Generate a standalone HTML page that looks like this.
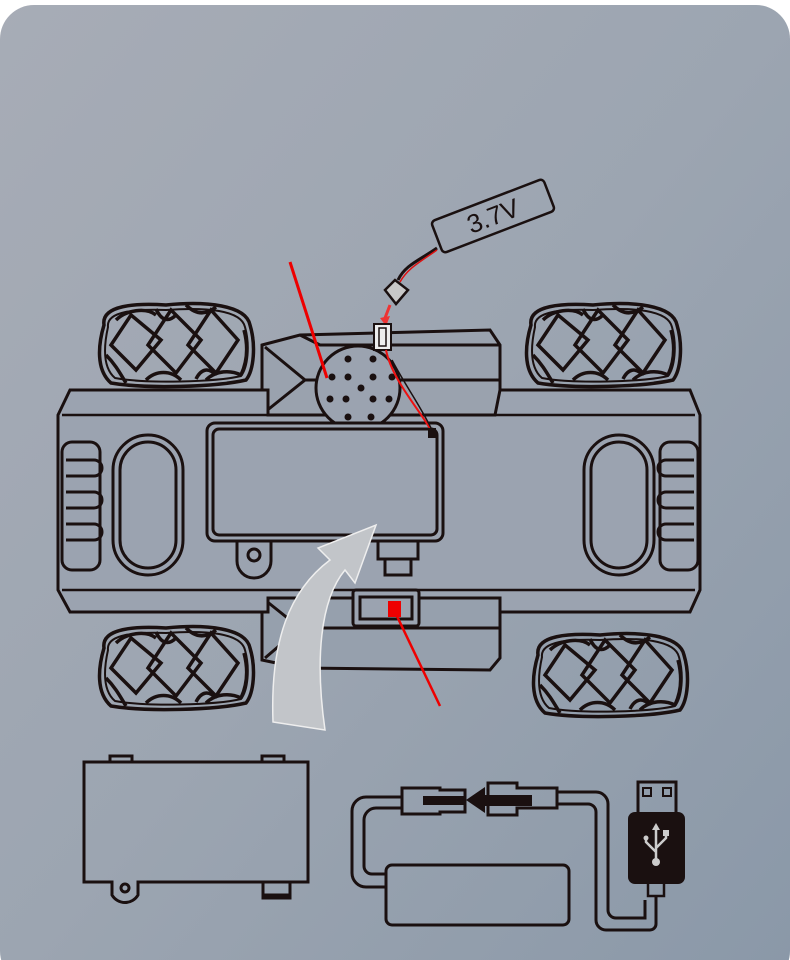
<!DOCTYPE html>
<html><head><style>
html,body{margin:0;padding:0;background:#fff;width:790px;height:960px;overflow:hidden}
</style></head><body>
<svg width="790" height="960" viewBox="0 0 790 960" xmlns="http://www.w3.org/2000/svg">
<defs>
<linearGradient id="bg" x1="0" y1="0" x2="1" y2="1">
<stop offset="0" stop-color="#a7acb6"/><stop offset="0.5" stop-color="#9ca5b1"/><stop offset="1" stop-color="#8a98a8"/>
</linearGradient>
<g id="wheel" fill="none" stroke="#1a1010" stroke-width="3.5">
<path d="M-72,-20 C-75,-40 -40,-42 -10,-40 C30,-44 70,-40 74,-20 C80,0 78,25 70,35 C40,42 -30,44 -65,38 C-80,25 -78,0 -72,-20Z"/>
<path d="M-68,-18 C-70,-34 -40,-36 -10,-35 C30,-38 65,-35 69,-18 C74,0 72,22 65,31 C40,37 -30,39 -61,33 C-74,22 -72,0 -68,-18Z" stroke-width="2"/>
<path d="M-45,-30 L-15,-5 L-40,25 L-65,0Z"/>
<path d="M-5,-35 L25,-5 L0,28 L-28,0Z"/>
<path d="M35,-35 L62,-5 L40,28 L12,0Z"/>
<path d="M-60,-25 C-50,-35 -30,-38 -20,-30 M10,-40 C20,-30 30,-30 40,-38 M-30,35 C-20,25 -5,25 5,35 M30,35 C40,25 55,25 65,30"/>
<path d="M-70,10 C-60,20 -55,30 -50,38 M68,-15 C72,0 72,15 65,30 M-20,-36 C-15,-25 -8,-22 0,-30 M20,34 C25,24 32,22 40,30"/>
</g>
</defs>
<rect x="0" y="5" width="790" height="980" rx="34" fill="url(#bg)"/>

<use href="#wheel" x="176" y="345"/>
<use href="#wheel" x="603" y="345"/>
<use href="#wheel" x="176" y="668"/>
<use href="#wheel" x="610" y="675"/>

<g fill="none" stroke="#1a1010" stroke-width="3">
<path d="M262,345 L300,335 L490,330 L500,345 L500,415 L262,415Z" fill="#9aa2ae"/>
<path d="M265,347 L305,380 L265,412 M300,335 L320,345 L500,345 M305,380 L500,380"/>
<path d="M262,598 L500,598 L500,658 L490,670 L300,668 L262,660Z" fill="#96a0ad"/>
<path d="M265,600 L300,628 L265,658 M300,628 L500,628"/>
<path d="M58,415 L70,390 L268,390 L268,415 L495,415 L500,390 L690,390 L700,415 L700,590 L690,612 L500,612 L500,598 L268,598 L268,612 L70,612 L58,590Z" fill="#9ba3b0"/>
<path d="M62,415 L695,415 M62,590 L695,590" stroke-width="2.5"/>
<circle cx="358" cy="388" r="42" fill="#9ba3b0"/>
<rect x="207" y="423" width="236" height="118" rx="8" fill="#9ba3b0"/>
<rect x="213" y="429" width="224" height="106" rx="6"/>
<rect x="113" y="435" width="70" height="140" rx="35"/>
<rect x="120" y="442" width="56" height="126" rx="28"/>
<rect x="584" y="435" width="70" height="140" rx="35"/>
<rect x="591" y="442" width="56" height="126" rx="28"/>
<rect x="62" y="442" width="38" height="128" rx="10"/>
<rect x="660" y="442" width="38" height="128" rx="10"/>
<path d="M66,460 h28 a8,8 0 0 1 0,16 h-28 M66,492 h28 a8,8 0 0 1 0,16 h-28 M66,524 h28 a8,8 0 0 1 0,16 h-28"/>
<path d="M694,460 h-28 a8,8 0 0 0 0,16 h28 M694,492 h-28 a8,8 0 0 0 0,16 h28 M694,524 h-28 a8,8 0 0 0 0,16 h28"/>
<path d="M237,541 v20 a17,17 0 0 0 34,0 v-20"/>
<circle cx="254" cy="555" r="6"/>
<path d="M378,541 v18 h40 v-18 M385,559 v16 h26 v-16"/>
<rect x="353" y="590" width="66" height="36" rx="3" fill="#9ba3b0"/>
<rect x="360" y="597" width="52" height="22"/>
<path d="M84,762 L308,762 L308,882 L290,882 L290,895 L263,895 L263,882 L138,882 L138,895 a15,15 0 0 1 -26,0 L112,882 L84,882Z"/>
<path d="M110,762 v-6 h22 v6 M262,762 v-6 h22 v6"/>
<circle cx="125" cy="888" r="4"/>
<rect x="263" y="882" width="27" height="16"/>
<path d="M402,797 H366 a14,14 0 0 0 -14,14 V873 a14,14 0 0 0 14,14 H386"/>
<path d="M402,808 H376 a12,12 0 0 0 -12,12 V866 a8,8 0 0 0 8,8 H386"/>
<rect x="386" y="865" width="183" height="60" rx="6"/>
<path d="M557,792 H596 a12,12 0 0 1 12,12 V910 a8,8 0 0 0 8,8 H645 V900"/>
<path d="M557,804 H588 a8,8 0 0 1 8,8 V920 a10,10 0 0 0 10,10 H650 a6,6 0 0 0 6,-6 V895"/>
<path d="M402,788 H440 V790 H465 V812 H440 V814 H402Z"/>
<path d="M488,783 H517 V788 H557 V808 H517 V815 H488Z"/>
<rect x="638" y="782" width="38" height="34"/>
<rect x="643" y="788" width="8" height="8" stroke-width="2"/>
<rect x="663" y="788" width="8" height="8" stroke-width="2"/>
<rect x="648" y="880" width="16" height="16" stroke-width="2.5"/>
</g>
<rect x="628" y="812" width="57" height="72" rx="7" fill="#1a1010"/>
<g stroke="#ccc" stroke-width="2.5" fill="none"><path d="M656,828 V862 M656,852 L646,842 V838 M656,848 L666,838 V834"/></g>
<circle cx="656" cy="862" r="4" fill="#ccc"/><circle cx="646" cy="838" r="2.5" fill="#ccc"/><rect x="663" y="830" width="6" height="6" fill="#ccc"/><path d="M652,830 L656,823 L660,830Z" fill="#ccc"/>
<path d="M423,796 H466 V805 H423Z M478,795 H532 V806 H478Z" fill="#1a1010"/>
<path d="M466,800 L485,787 V813Z" fill="#1a1010"/>

<g fill="#1a1010">
<circle cx="348" cy="359" r="3.5"/><circle cx="373" cy="359" r="3.5"/>
<circle cx="332" cy="377" r="3.5"/><circle cx="348" cy="377" r="3.5"/><circle cx="373" cy="377" r="3.5"/><circle cx="392" cy="377" r="3.5"/>
<circle cx="361" cy="388" r="3.5"/>
<circle cx="330" cy="399" r="3.5"/><circle cx="346" cy="399" r="3.5"/><circle cx="373" cy="399" r="3.5"/><circle cx="389" cy="399" r="3.5"/>
<circle cx="348" cy="417" r="3.5"/><circle cx="371" cy="417" r="3.5"/>
</g>

<g transform="rotate(-21 493 216)">
<rect x="433" y="199" width="120" height="34" rx="4" fill="none" stroke="#1a1010" stroke-width="2.5"/>
<text x="493" y="225" font-family="Liberation Sans, sans-serif" font-size="26" fill="#1a1010" text-anchor="middle">3.7V</text>
</g>
<path d="M437,248 C420,260 405,265 398,280" stroke="#1a1010" stroke-width="3" fill="none"/>
<path d="M437,250 C420,262 408,268 400,282" stroke="#d11" stroke-width="1.5" fill="none"/>
<path d="M385,290 L395,280 L408,290 L396,304Z" fill="#c8c8c8" stroke="#1a1010" stroke-width="2.5"/>
<path d="M390,305 L385,318" stroke="#e33" stroke-width="3"/>
<path d="M380,318 L386,326 L390,316Z" fill="#e33"/>
<rect x="374" y="324" width="17" height="26" fill="#eee" stroke="#1a1010" stroke-width="2"/>
<rect x="379" y="328" width="7" height="18" fill="none" stroke="#1a1010" stroke-width="1.5"/>
<path d="M386,350 C392,380 420,410 432,432" stroke="#e11" stroke-width="2" fill="none"/>
<path d="M392,360 C405,385 420,405 432,430" stroke="#1a1010" stroke-width="1.5" fill="none"/>
<rect x="428" y="428" width="8" height="10" fill="#1a1010"/>

<path d="M290,262 L327,378" stroke="#e00" stroke-width="3"/>
<path d="M395,612 L440,706" stroke="#e00" stroke-width="2.5"/>
<rect x="388" y="601" width="13" height="16" fill="#e00"/>

<path d="M273,722 C270,640 290,590 330,560 L318,548 L376,525 L355,583 L345,570 C320,600 315,660 325,730Z" fill="#c2c5c9" stroke="#eee" stroke-width="1.5"/>
</svg>
</body></html>
